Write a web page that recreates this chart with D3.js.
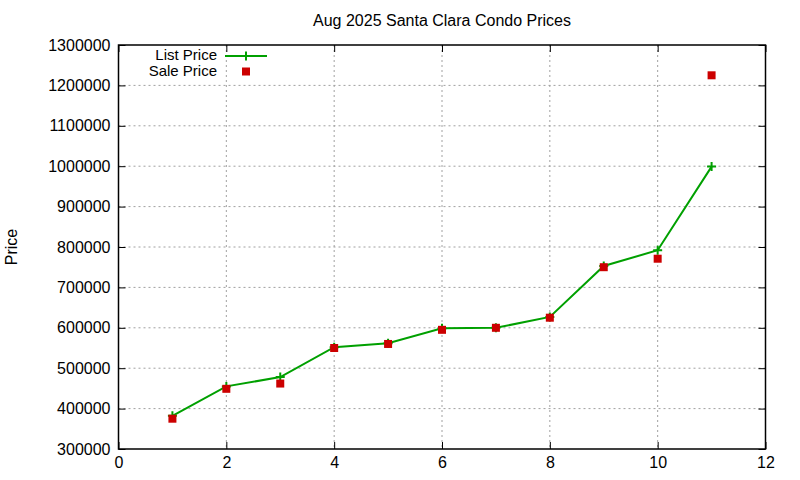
<!DOCTYPE html>
<html>
<head>
  <meta charset="utf-8">
  <title>Aug 2025 Santa Clara Condo Prices</title>
  <style>
    body {
      margin: 0;
      background-color: white;
      font-family: "Liberation Sans", Arial, sans-serif;
    }
    .tick text {
      font-size: 16px;
      fill: black;
    }
    .grid line {
      stroke: #a0a0a0;
      stroke-width: 1;
      stroke-dasharray: 2,3;
    }
  </style>
  <script src="https://d3js.org/d3.v7.min.js"></script>
</head>
<body>
  <div id="chart"></div>
  <script>
    // Sales numbered 1..11, list and sale price per sale
    const saleIndex = [1, 2, 3, 4, 5, 6, 7, 8, 9, 10, 11];
    const listPrice = [382000, 455000, 478000, 552000, 562000, 599000, 600000, 627000, 753000, 792000, 999000];
    const salePrice = [375000, 449000, 462000, 550000, 560000, 595000, 600000, 625000, 750000, 771000, 1225000];

    const chartTitle = "Aug 2025 Santa Clara Condo Prices";
    const yLabel = "Price";
    const seriesNames = ["List Price", "Sale Price"];

    const width = 800, height = 480;
    const margin = {top: 45, right: 34.5, bottom: 31, left: 118.5};
    const green = "#00a000", red = "#cc0000";

    const svg = d3.select("#chart").append("svg")
      .attr("width", width)
      .attr("height", height);

    const x = d3.scaleLinear()
      .domain([0, 12])
      .range([margin.left, width - margin.right]);
    const y = d3.scaleLinear()
      .domain([300000, 1300000])
      .range([height - margin.bottom, margin.top]);

    const plotL = x.range()[0], plotR = x.range()[1];
    const plotT = y.range()[1], plotB = y.range()[0];

    // dashed grid
    const grid = svg.append("g").attr("class", "grid");
    grid.selectAll(".gx")
      .data(x.ticks(6).filter(d => d > 0 && d < 12))
      .enter().append("line")
      .attr("x1", d => x(d)).attr("x2", d => x(d))
      .attr("y1", plotT).attr("y2", plotB);
    grid.selectAll(".gy")
      .data(y.ticks(10).filter(d => d > 300000 && d < 1300000))
      .enter().append("line")
      .attr("x1", plotL).attr("x2", plotR)
      .attr("y1", d => y(d)).attr("y2", d => y(d));

    // axes with inward ticks, mirrored on top and right
    const tick = 7;
    const axes = [
      svg.append("g").attr("transform", `translate(0,${plotB})`)
        .call(d3.axisBottom(x).ticks(6).tickSize(-tick).tickPadding(8)),
      svg.append("g").attr("transform", `translate(${plotL},0)`)
        .call(d3.axisLeft(y).ticks(10).tickFormat(d3.format("d")).tickSize(-tick).tickPadding(8)),
      svg.append("g").attr("transform", `translate(0,${plotT})`)
        .call(d3.axisTop(x).ticks(6).tickSize(-tick).tickFormat("")),
      svg.append("g").attr("transform", `translate(${plotR},0)`)
        .call(d3.axisRight(y).ticks(10).tickSize(-tick).tickFormat(""))
    ];
    axes.forEach(a => {
      a.select(".domain").remove();
      a.selectAll(".tick line").attr("stroke", "black").attr("stroke-width", 1);
      a.attr("font-family", null).attr("font-size", null);
    });

    // border
    svg.append("rect")
      .attr("x", plotL).attr("y", plotT)
      .attr("width", plotR - plotL).attr("height", plotB - plotT)
      .attr("fill", "none")
      .attr("stroke", "black")
      .attr("stroke-width", 1.5);

    // title and y label
    svg.append("text")
      .attr("x", (plotL + plotR) / 2)
      .attr("y", 26)
      .attr("text-anchor", "middle")
      .style("font-size", "16px")
      .text(chartTitle);

    svg.append("text")
      .attr("transform", `translate(17,${(plotT + plotB) / 2}) rotate(-90)`)
      .attr("text-anchor", "middle")
      .style("font-size", "16px")
      .text(yLabel);

    const cross = (g, size) => g.append("path")
      .attr("d", `M${-size},0H${size}M0,${-size}V${size}`)
      .attr("stroke", green)
      .attr("stroke-width", 2)
      .attr("fill", "none");

    // list price line with crosses
    const listData = saleIndex.map((d, i) => ({x: d, y: listPrice[i]}));
    svg.append("path")
      .datum(listData)
      .attr("fill", "none")
      .attr("stroke", green)
      .attr("stroke-width", 2)
      .attr("d", d3.line().x(d => x(d.x)).y(d => y(d.y)));

    svg.selectAll(".listpt")
      .data(listData)
      .enter().append("g")
      .attr("class", "listpt")
      .attr("transform", d => `translate(${x(d.x)},${y(d.y)})`)
      .each(function() { cross(d3.select(this), 4.5); });

    // sale price squares
    const saleData = saleIndex.map((d, i) => ({x: d, y: salePrice[i]}));
    svg.selectAll(".salept")
      .data(saleData)
      .enter().append("rect")
      .attr("class", "salept")
      .attr("x", d => x(d.x) - 4)
      .attr("y", d => y(d.y) - 4)
      .attr("width", 8)
      .attr("height", 8)
      .attr("fill", red);

    // legend
    const legend = svg.append("g");
    legend.append("text")
      .attr("x", 217).attr("y", 60)
      .attr("text-anchor", "end")
      .style("font-size", "15px")
      .text(seriesNames[0]);
    legend.append("line")
      .attr("x1", 225).attr("x2", 267)
      .attr("y1", 56).attr("y2", 56)
      .attr("stroke", green)
      .attr("stroke-width", 2);
    cross(legend.append("g").attr("transform", "translate(246,56)"), 4.5);

    legend.append("text")
      .attr("x", 217).attr("y", 75.5)
      .attr("text-anchor", "end")
      .style("font-size", "15px")
      .text(seriesNames[1]);
    legend.append("rect")
      .attr("x", 242).attr("y", 67.5)
      .attr("width", 8).attr("height", 8)
      .attr("fill", red);
  </script>
</body>
</html>
